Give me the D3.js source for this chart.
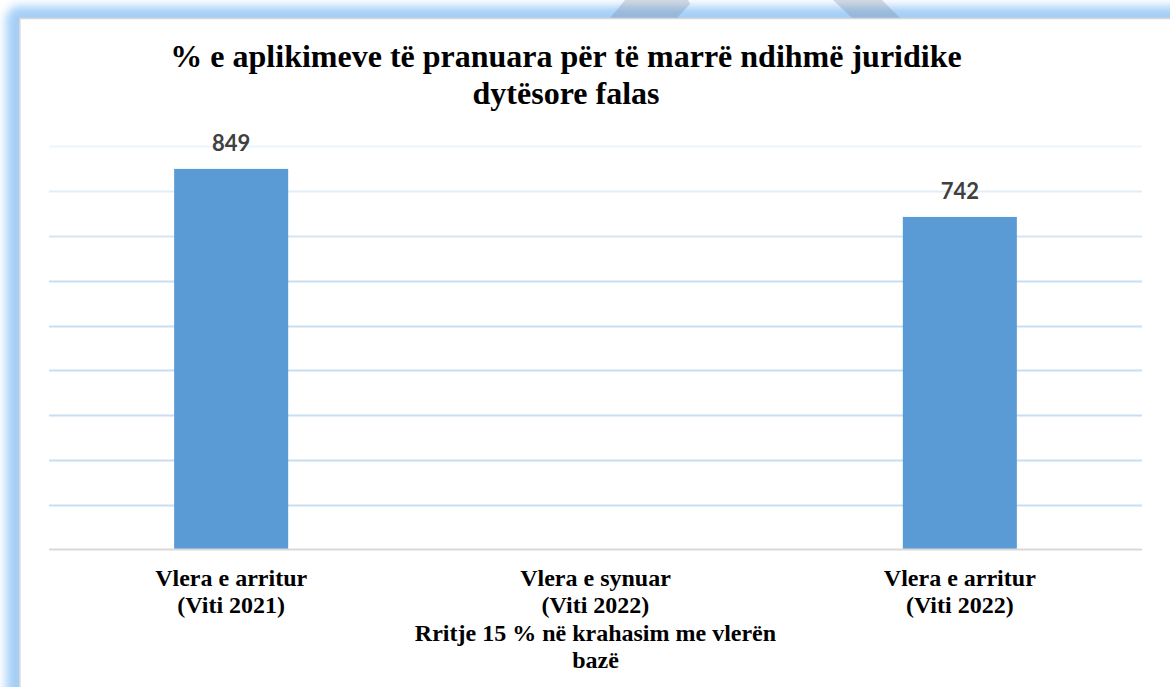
<!DOCTYPE html>
<html>
<head>
<meta charset="utf-8">
<script src="https://cdn.jsdelivr.net/npm/d3@7"></script>
<style>
  body { margin: 0; background: #fff; }
  svg { display: block; }
  .serif { font-family: "Times New Roman", "Liberation Serif", Tinos, "DejaVu Serif", serif; font-weight: bold; }
  .num { font-family: Lato, "Open Sans", sans-serif; font-weight: bold; }
</style>
</head>
<body>
<div id="chart"></div>
<script>
var titleLines = ["% e aplikimeve të pranuara për të marrë ndihmë juridike", "dytësore falas"];
var categories = ["arritur2021", "synuar2022", "arritur2022"];
var categoryLines = [
  ["Vlera e arritur", "(Viti 2021)"],
  ["Vlera e synuar", "(Viti 2022)", "Rritje 15 % në krahasim me vlerën", "bazë"],
  ["Vlera e arritur", "(Viti 2022)"]
];
var values = [849, null, 742];
var yTicks = [100, 200, 300, 400, 500, 600, 700, 800, 900];

var width = 1170, height = 687;
var plot = { left: 49, right: 1142, top: 146, bottom: 550 };

var svg = d3.select('#chart').append('svg').attr('width', width).attr('height', height);
var defs = svg.append('defs');

// soft blue frame round the page
var blur = defs.append('filter').attr('id', 'glow')
  .attr('x', '-10%').attr('y', '-10%').attr('width', '120%').attr('height', '120%');
blur.append('feGaussianBlur').attr('stdDeviation', 5);

svg.append('rect').attr('x', 6).attr('y', 6).attr('width', 1300).attr('height', 800)
  .attr('rx', 14).attr('fill', '#a5cff8').attr('filter', 'url(#glow)');

// the grey slanted shapes behind the top band
var shapes = [
  [[610, 18], [625, 0], [688, 0], [690, 4], [677, 18]],
  [[833, 0], [882, 0], [900, 18], [852, 18]]
];
svg.selectAll('polygon.deco')
  .data(shapes)
  .enter()
  .append('polygon')
  .attr('class', 'deco')
  .attr('points', function (d) { return d.map(function (p) { return p.join(','); }).join(' '); })
  .attr('fill', '#6f7f92')
  .attr('opacity', 0.28);

svg.append('rect').attr('x', 20).attr('y', 19).attr('width', width).attr('height', height)
  .attr('fill', '#ffffff');
svg.append('line').attr('x1', 19).attr('x2', width).attr('y1', 18.5).attr('y2', 18.5)
  .attr('stroke', '#d6d6d6').attr('stroke-width', 1.6);
svg.append('line').attr('x1', 19.8).attr('x2', 19.8).attr('y1', 18).attr('y2', height)
  .attr('stroke', '#d6d6d6').attr('stroke-width', 1.6);

// scales
var x = d3.scaleBand()
  .domain(categories)
  .range([plot.left, plot.right])
  .paddingInner(0.687)
  .paddingOuter(0.3435);

var y = d3.scaleLinear()
  .domain([0, 900])
  .range([plot.bottom, plot.top]);

var gridColor = d3.scaleLinear().domain([600, 900]).range(['#cadef1', '#edf4fb']).clamp(true);

// gridlines
svg.append('g')
  .selectAll('line')
  .data(yTicks)
  .enter()
  .append('line')
  .attr('x1', plot.left)
  .attr('x2', plot.right)
  .attr('y1', function (d) { return Math.round(y(d)) + 0.5; })
  .attr('y2', function (d) { return Math.round(y(d)) + 0.5; })
  .attr('stroke', function (d) { return gridColor(d); })
  .attr('stroke-width', 2);

// bars
var barData = categories.map(function (c, i) { return { cat: c, value: values[i] }; })
  .filter(function (d) { return d.value !== null; });

svg.append('g')
  .selectAll('rect')
  .data(barData)
  .enter()
  .append('rect')
  .attr('x', function (d) { return x(d.cat); })
  .attr('y', function (d) { return y(d.value); })
  .attr('width', x.bandwidth())
  .attr('height', function (d) { return y(0) - y(d.value); })
  .attr('fill', '#5b9bd5');

// x axis line
svg.append('line')
  .attr('x1', plot.left).attr('x2', plot.right)
  .attr('y1', y(0) - 0.5).attr('y2', y(0) - 0.5)
  .attr('stroke', '#d9d9d9').attr('stroke-width', 2);

// value labels
svg.append('g')
  .selectAll('text')
  .data(barData)
  .enter()
  .append('text')
  .attr('class', 'num')
  .attr('x', function (d) { return x(d.cat) + x.bandwidth() / 2; })
  .attr('y', function (d) { return y(d.value) - 18; })
  .attr('text-anchor', 'middle')
  .attr('font-size', '22px')
  .attr('fill', '#404040')
  .text(function (d) { return d.value; });

// category labels
var cat = svg.append('g')
  .selectAll('text')
  .data(categories)
  .enter()
  .append('text')
  .attr('class', 'serif')
  .attr('text-anchor', 'middle')
  .attr('font-size', '24px')
  .attr('fill', '#000');

cat.selectAll('tspan')
  .data(function (d, i) {
    return categoryLines[i].map(function (t) { return { cat: d, text: t }; });
  })
  .enter()
  .append('tspan')
  .attr('x', function (d) { return x(d.cat) + x.bandwidth() / 2; })
  .attr('y', function (d, j) { return 586 + j * 27.3; })
  .text(function (d) { return d.text; });

// title
svg.append('text')
  .attr('class', 'serif')
  .attr('text-anchor', 'middle')
  .attr('font-size', '32px')
  .attr('fill', '#000')
  .selectAll('tspan')
  .data(titleLines)
  .enter()
  .append('tspan')
  .attr('x', 566)
  .attr('y', function (d, i) { return 67 + i * 37; })
  .text(function (d) { return d; });
</script>
</body>
</html>
